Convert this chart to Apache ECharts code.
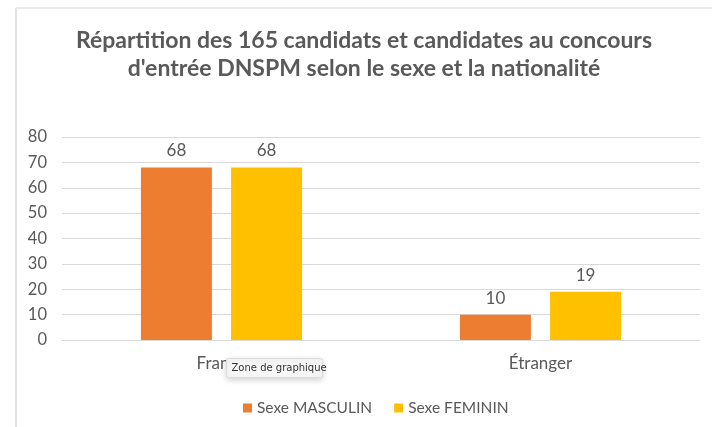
<!DOCTYPE html>
<html>
<head>
<meta charset="utf-8">
<script src="https://cdn.jsdelivr.net/npm/echarts@6/dist/echarts.min.js"></script>
<style>
  html, body { margin: 0; padding: 0; background: #fff; }
  #chart { width: 712px; height: 427px; }
</style>
</head>
<body>
<div id="chart"></div>
<script>
  const categories = ['France', 'Étranger'];
  const seriesNames = ['Sexe MASCULIN', 'Sexe FEMININ'];
  const masculin = [68, 10];
  const feminin = [68, 19];
  const colors = ['#ED7D31', '#FFC000'];

  const chart = echarts.init(document.getElementById('chart'));
  const txt = '#595959';
  const font = 'Lato, "Open Sans", sans-serif';

  const labelStyle = {
    show: true,
    position: 'top',
    distance: 8,
    color: txt,
    fontSize: 17,
    fontFamily: font,
  };

  const option = {
    animation: false,
    title: {
      text: "Répartition des 165 candidats et candidates au concours\nd'entrée DNSPM selon le sexe et la nationalité",
      left: 359,
      top: 22,
      textAlign: 'center',
      textStyle: {
        color: txt,
        fontSize: 23,
        fontWeight: 'bold',
        fontFamily: font,
        lineHeight: 28,
      },
    },
    legend: {
      data: seriesNames,
      left: 238,
      top: 395,
      icon: 'rect',
      itemWidth: 9,
      itemHeight: 9,
      itemGap: 22,
      textStyle: { color: txt, fontSize: 15.5, fontFamily: font },
    },
    grid: { left: 62, right: 12, top: 137, bottom: 87 },
    xAxis: {
      type: 'category',
      data: categories,
      axisLine: { lineStyle: { color: '#d9d9d9' } },
      axisTick: { show: false },
      axisLabel: { color: txt, fontSize: 17, fontFamily: font, margin: 15 },
    },
    yAxis: {
      type: 'value',
      min: 0,
      max: 80,
      interval: 10,
      axisLine: { show: false },
      axisTick: { show: false },
      splitLine: { lineStyle: { color: '#d9d9d9' } },
      axisLabel: { color: txt, fontSize: 16.5, fontFamily: font, margin: 15 },
    },
    series: [
      {
        name: seriesNames[0],
        type: 'bar',
        data: masculin,
        barWidth: 71,
        barGap: '27%',
        itemStyle: { color: colors[0] },
        label: labelStyle,
      },
      {
        name: seriesNames[1],
        type: 'bar',
        data: feminin,
        barWidth: 71,
        itemStyle: { color: colors[1] },
        label: labelStyle,
      },
    ],
    graphic: [
      {
        type: 'line',
        shape: { x1: 16, y1: 8, x2: 16, y2: 427 },
        style: { stroke: '#d9d9d9', lineWidth: 1.5 },
      },
      {
        type: 'line',
        shape: { x1: 16, y1: 8, x2: 712, y2: 8 },
        style: { stroke: '#e3e3e3', lineWidth: 1.5 },
      },
      {
        type: 'group',
        left: 226,
        top: 358,
        z: 100,
        children: [
          {
            type: 'rect',
            z: 100,
            shape: { x: 0, y: 0, width: 96, height: 19, r: 2 },
            style: {
              fill: '#f7f7f7',
              stroke: '#dcdcdc',
              lineWidth: 1,
              shadowBlur: 6,
              shadowColor: 'rgba(0,0,0,0.18)',
              shadowOffsetY: 2,
            },
          },
          {
            type: 'text',
            z: 101,
            x: 5,
            y: 5,
            style: {
              text: 'Zone de graphique',
              fill: '#333',
              fontSize: 10,
              fontFamily: '"DejaVu Sans", sans-serif',
            },
          },
        ],
      },
    ],
  };

  chart.setOption(option);
</script>
</body>
</html>
